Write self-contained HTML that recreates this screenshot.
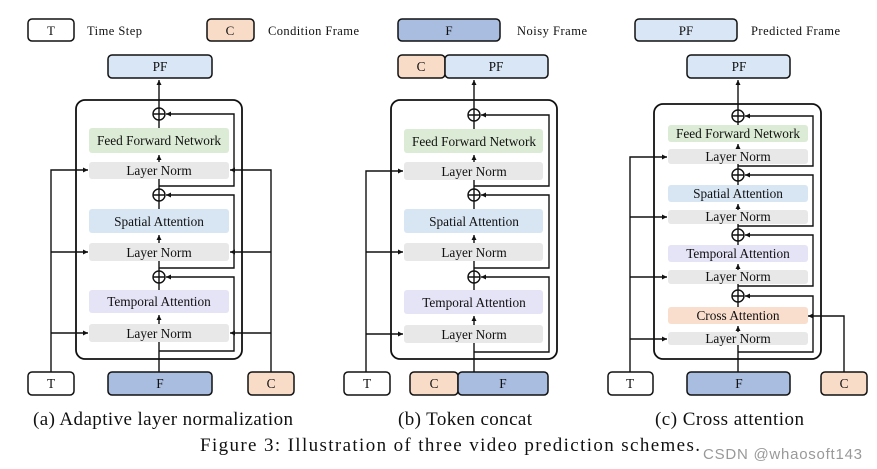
<!DOCTYPE html>
<html><head><meta charset="utf-8"><style>
html,body{margin:0;padding:0;background:#fff;}
svg{display:block;}
text{font-family:"Liberation Serif",serif;fill:#111;}
</style></head><body>
<svg width="877" height="469" viewBox="0 0 877 469" xmlns="http://www.w3.org/2000/svg">
<defs>
<marker id="a" markerWidth="6" markerHeight="6" refX="5" refY="3" orient="auto" markerUnits="userSpaceOnUse"><path d="M0,0.5 L5,3 L0,5.5 z" fill="#111"/></marker>
</defs>
<!-- legend -->
<g stroke="#111" stroke-width="1.5">
<rect x="28" y="19" width="46" height="22" rx="4" fill="#fff"/>
<rect x="207" y="19" width="47" height="22" rx="4" fill="#f8dcc8"/>
<rect x="398" y="19" width="102" height="22" rx="4" fill="#a9bde0"/>
<rect x="635" y="19" width="102" height="22" rx="4" fill="#d8e6f5"/>
</g>
<g font-size="13" text-anchor="middle">
<text x="51" y="35">T</text><text x="230" y="35">C</text><text x="449" y="35">F</text><text x="686" y="35">PF</text>
</g>
<g font-size="12.5">
<text x="87" y="35" textLength="55">Time Step</text><text x="268" y="35" textLength="91">Condition Frame</text><text x="517" y="35" textLength="70">Noisy Frame</text><text x="751" y="35" textLength="89">Predicted Frame</text>
</g>

<!-- ===== Panel A ===== -->
<g stroke="#111" stroke-width="1.5">
<rect x="108" y="55" width="104" height="23" rx="4" fill="#d8e6f5"/>
<rect x="76" y="100" width="166" height="259" rx="9" fill="none" stroke-width="1.8"/>
<rect x="28" y="372" width="46" height="23" rx="4" fill="#fff"/>
<rect x="108" y="372" width="104" height="23" rx="4" fill="#a9bde0"/>
<rect x="248" y="372" width="46" height="23" rx="4" fill="#f8dcc8"/>
</g>
<g stroke="none">
<rect x="89" y="128" width="140" height="25" rx="3" fill="#dcebd5"/>
<rect x="89" y="162" width="140" height="17" rx="3" fill="#e8e8e8"/>
<rect x="89" y="209" width="140" height="24" rx="3" fill="#d8e6f4"/>
<rect x="89" y="243" width="140" height="18" rx="3" fill="#e8e8e8"/>
<rect x="89" y="290" width="140" height="23" rx="3" fill="#e5e3f6"/>
<rect x="89" y="324" width="140" height="18" rx="3" fill="#e8e8e8"/>
</g>
<g fill="none" stroke="#111" stroke-width="1.4">
<line x1="159" y1="372" x2="159" y2="342"/>
<line x1="159" y1="324" x2="159" y2="315" marker-end="url(#a)"/>
<line x1="159" y1="290" x2="159" y2="283"/>
<line x1="159" y1="271" x2="159" y2="261"/>
<line x1="159" y1="243" x2="159" y2="235" marker-end="url(#a)"/>
<line x1="159" y1="209" x2="159" y2="201"/>
<line x1="159" y1="189" x2="159" y2="179"/>
<line x1="159" y1="162" x2="159" y2="155" marker-end="url(#a)"/>
<line x1="159" y1="128" x2="159" y2="120"/>
<line x1="159" y1="108" x2="159" y2="80" marker-end="url(#a)"/>
<circle cx="159" cy="114" r="6"/><path d="M153,114 H165 M159,108 V120"/>
<circle cx="159" cy="195" r="6"/><path d="M153,195 H165 M159,189 V201"/>
<circle cx="159" cy="277" r="6"/><path d="M153,277 H165 M159,271 V283"/>
<path d="M159,186 H234 V114 H166" marker-end="url(#a)"/>
<path d="M159,268 H234 V195 H166" marker-end="url(#a)"/>
<path d="M159,351 H234 V277 H166" marker-end="url(#a)"/>
<path d="M51,372 V170 H88" marker-end="url(#a)"/>
<path d="M51,252 H88" marker-end="url(#a)"/>
<path d="M51,333 H88" marker-end="url(#a)"/>
<path d="M271,372 V170 H230" marker-end="url(#a)"/>
<path d="M271,252 H230" marker-end="url(#a)"/>
<path d="M271,333 H230" marker-end="url(#a)"/>
</g>
<g font-size="13.3" text-anchor="middle">
<text x="160" y="71">PF</text>
<text x="159" y="145">Feed Forward Network</text>
<text x="159" y="175">Layer Norm</text>
<text x="159" y="226">Spatial Attention</text>
<text x="159" y="257">Layer Norm</text>
<text x="159" y="306">Temporal Attention</text>
<text x="159" y="338">Layer Norm</text>
<text x="51" y="388">T</text><text x="160" y="388">F</text><text x="271" y="388">C</text>
</g>

<!-- ===== Panel B ===== -->
<g stroke="#111" stroke-width="1.5">
<rect x="398" y="55" width="47" height="23" rx="4" fill="#f8dcc8"/>
<rect x="445" y="55" width="103" height="23" rx="4" fill="#d8e6f5"/>
<rect x="391" y="100" width="166" height="259" rx="9" fill="none" stroke-width="1.8"/>
<rect x="344" y="372" width="46" height="23" rx="4" fill="#fff"/>
<rect x="410" y="372" width="48" height="23" rx="4" fill="#f8dcc8"/>
<rect x="458" y="372" width="90" height="23" rx="4" fill="#a9bde0"/>
</g>
<g stroke="none">
<rect x="404" y="129" width="139" height="24" rx="3" fill="#dcebd5"/>
<rect x="404" y="162" width="139" height="18" rx="3" fill="#e8e8e8"/>
<rect x="404" y="209" width="139" height="24" rx="3" fill="#d8e6f4"/>
<rect x="404" y="243" width="139" height="18" rx="3" fill="#e8e8e8"/>
<rect x="404" y="290" width="139" height="24" rx="3" fill="#e5e3f6"/>
<rect x="404" y="325" width="139" height="18" rx="3" fill="#e8e8e8"/>
</g>
<g fill="none" stroke="#111" stroke-width="1.4">
<line x1="474" y1="372" x2="474" y2="343"/>
<line x1="474" y1="325" x2="474" y2="316" marker-end="url(#a)"/>
<line x1="474" y1="290" x2="474" y2="283"/>
<line x1="474" y1="271" x2="474" y2="261"/>
<line x1="474" y1="243" x2="474" y2="235" marker-end="url(#a)"/>
<line x1="474" y1="209" x2="474" y2="201"/>
<line x1="474" y1="189" x2="474" y2="180"/>
<line x1="474" y1="162" x2="474" y2="155" marker-end="url(#a)"/>
<line x1="474" y1="129" x2="474" y2="121"/>
<line x1="474" y1="109" x2="474" y2="80" marker-end="url(#a)"/>
<circle cx="474" cy="115" r="6"/><path d="M468,115 H480 M474,109 V121"/>
<circle cx="474" cy="195" r="6"/><path d="M468,195 H480 M474,189 V201"/>
<circle cx="474" cy="277" r="6"/><path d="M468,277 H480 M474,271 V283"/>
<path d="M474,186 H549 V115 H481" marker-end="url(#a)"/>
<path d="M474,268 H549 V195 H481" marker-end="url(#a)"/>
<path d="M474,352 H549 V277 H481" marker-end="url(#a)"/>
<path d="M366,372 V171 H403" marker-end="url(#a)"/>
<path d="M366,252 H403" marker-end="url(#a)"/>
<path d="M366,334 H403" marker-end="url(#a)"/>
</g>
<g font-size="13.3" text-anchor="middle">
<text x="421" y="71">C</text><text x="496" y="71">PF</text>
<text x="474" y="146">Feed Forward Network</text>
<text x="474" y="176">Layer Norm</text>
<text x="474" y="226">Spatial Attention</text>
<text x="474" y="257">Layer Norm</text>
<text x="474" y="307">Temporal Attention</text>
<text x="474" y="339">Layer Norm</text>
<text x="367" y="388">T</text><text x="434" y="388">C</text><text x="503" y="388">F</text>
</g>

<!-- ===== Panel C ===== -->
<g stroke="#111" stroke-width="1.5">
<rect x="687" y="55" width="103" height="23" rx="4" fill="#d8e6f5"/>
<rect x="654" y="104" width="167" height="255" rx="9" fill="none" stroke-width="1.8"/>
<rect x="608" y="372" width="45" height="23" rx="4" fill="#fff"/>
<rect x="687" y="372" width="103" height="23" rx="4" fill="#a9bde0"/>
<rect x="821" y="372" width="46" height="23" rx="4" fill="#f8dcc8"/>
</g>
<g stroke="none">
<rect x="668" y="125" width="140" height="17" rx="3" fill="#dcebd5"/>
<rect x="668" y="149" width="140" height="15" rx="3" fill="#e8e8e8"/>
<rect x="668" y="185" width="140" height="17" rx="3" fill="#d8e6f4"/>
<rect x="668" y="210" width="140" height="14" rx="3" fill="#e8e8e8"/>
<rect x="668" y="245" width="140" height="17" rx="3" fill="#e5e3f6"/>
<rect x="668" y="270" width="140" height="14" rx="3" fill="#e8e8e8"/>
<rect x="668" y="307" width="140" height="17" rx="3" fill="#f9dece"/>
<rect x="668" y="332" width="140" height="13" rx="3" fill="#e8e8e8"/>
</g>
<g fill="none" stroke="#111" stroke-width="1.4">
<line x1="738" y1="372" x2="738" y2="345"/>
<line x1="738" y1="332" x2="738" y2="326" marker-end="url(#a)"/>
<line x1="738" y1="307" x2="738" y2="302"/>
<line x1="738" y1="290" x2="738" y2="284"/>
<line x1="738" y1="270" x2="738" y2="264" marker-end="url(#a)"/>
<line x1="738" y1="245" x2="738" y2="241"/>
<line x1="738" y1="229" x2="738" y2="224"/>
<line x1="738" y1="210" x2="738" y2="204" marker-end="url(#a)"/>
<line x1="738" y1="185" x2="738" y2="181"/>
<line x1="738" y1="169" x2="738" y2="164"/>
<line x1="738" y1="149" x2="738" y2="144" marker-end="url(#a)"/>
<line x1="738" y1="125" x2="738" y2="122"/>
<line x1="738" y1="110" x2="738" y2="80" marker-end="url(#a)"/>
<circle cx="738" cy="116" r="6"/><path d="M732,116 H744 M738,110 V122"/>
<circle cx="738" cy="175" r="6"/><path d="M732,175 H744 M738,169 V181"/>
<circle cx="738" cy="235" r="6"/><path d="M732,235 H744 M738,229 V241"/>
<circle cx="738" cy="296" r="6"/><path d="M732,296 H744 M738,290 V302"/>
<path d="M738,166 H813 V116 H745" marker-end="url(#a)"/>
<path d="M738,226 H813 V175 H745" marker-end="url(#a)"/>
<path d="M738,286 H813 V235 H745" marker-end="url(#a)"/>
<path d="M738,352 H813 V296 H745" marker-end="url(#a)"/>
<path d="M630,372 V157 H667" marker-end="url(#a)"/>
<path d="M630,217 H667" marker-end="url(#a)"/>
<path d="M630,277 H667" marker-end="url(#a)"/>
<path d="M630,339 H667" marker-end="url(#a)"/>
<path d="M844,372 V316 H808" marker-end="url(#a)"/>
</g>
<g font-size="13.3" text-anchor="middle">
<text x="739" y="71">PF</text>
<text x="738" y="138">Feed Forward Network</text>
<text x="738" y="161">Layer Norm</text>
<text x="738" y="198">Spatial Attention</text>
<text x="738" y="221">Layer Norm</text>
<text x="738" y="258">Temporal Attention</text>
<text x="738" y="281">Layer Norm</text>
<text x="738" y="320">Cross Attention</text>
<text x="738" y="343">Layer Norm</text>
<text x="630" y="388">T</text><text x="739" y="388">F</text><text x="844" y="388">C</text>
</g>

<!-- captions -->
<g font-size="19">
<text x="33" y="425" textLength="260">(a) Adaptive layer normalization</text>
<text x="398" y="425" textLength="134">(b) Token concat</text>
<text x="655" y="425" textLength="149">(c) Cross attention</text>
<text x="200" y="451" textLength="500">Figure 3:  Illustration of three video prediction schemes.</text>
</g>
<text x="703" y="459" font-size="15" textLength="159" style="font-family:'Liberation Sans',sans-serif;fill:#999">CSDN @whaosoft143</text>
</svg>
</body></html>
